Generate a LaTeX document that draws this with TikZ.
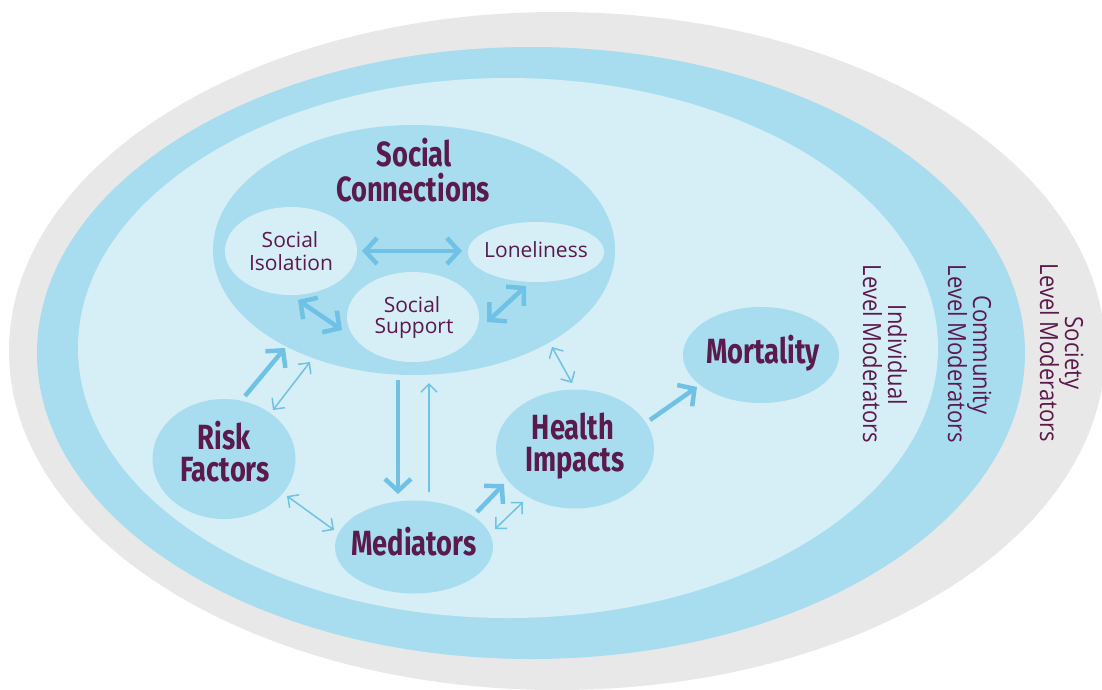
\documentclass[tikz,border=0pt]{standalone}
\usepackage{fontspec}
\setmainfont{Open Sans}
\newfontfamily\cond[FakeStretch=0.78]{Fira Sans}
\newfontfamily\modfont[FakeStretch=0.88]{Open Sans}
\usetikzlibrary{arrows.meta,shapes.geometric}
\definecolor{ggray}{HTML}{E8E8E8}
\definecolor{ringc}{HTML}{A7DDEF}
\definecolor{pale}{HTML}{D6EEF6}
\definecolor{arr}{HTML}{6FC1E6}
\definecolor{purp}{HTML}{5A1A4B}
\tikzset{
  tk/.tip={Straight Barb[sharp,length=12pt,width=26pt]},
  tn/.tip={Straight Barb[sharp,length=8pt,width=16pt]}
}
\begin{document}
\begin{tikzpicture}[x=1pt,y=-1pt,
  blob/.style={ellipse, fill=ringc, inner sep=0pt},
  paleblob/.style={ellipse, fill=pale, inner sep=0pt},
  bigtxt/.style={text=purp, font=\cond\bfseries\fontsize{35}{40}\selectfont, anchor=base, inner sep=0pt},
  smalltxt/.style={text=purp, font=\fontsize{21}{24}\selectfont, anchor=base, inner sep=0pt},
  modtxt/.style={text=purp, font=\modfont\fontsize{25}{28}\selectfont, anchor=base, inner sep=0pt, rotate=-90},
  thickarr/.style={draw=arr, line width=4.5pt},
  thinarr/.style={draw=arr, line width=1.5pt}]
\useasboundingbox (0,0) rectangle (1102,689);
\clip (0,0) rectangle (1102,689);
% moderator rings
\fill[ggray] (557,351) ellipse [x radius=548pt, y radius=339pt];
\fill[ringc] (531,353) ellipse [x radius=494pt, y radius=306pt];
\fill[pale] (508,348) ellipse [x radius=430pt, y radius=270pt];
% main nodes
\node[blob, minimum width=402pt, minimum height=250pt] (sc) at (414,250) {};
\node[paleblob, minimum width=132pt, minimum height=88pt] (iso) at (291,251) {};
\node[paleblob, minimum width=136pt, minimum height=60pt] (lon) at (536,252) {};
\node[paleblob, minimum width=132pt, minimum height=90pt] (sup) at (413,317) {};
\node[blob, minimum width=143pt, minimum height=120pt] (rf) at (224,459) {};
\node[blob, minimum width=158pt, minimum height=93pt] (med) at (414,547) {};
\node[blob, minimum width=158pt, minimum height=119pt] (hi) at (575,449) {};
\node[blob, minimum width=156pt, minimum height=96pt] (mort) at (761,355) {};
% texts
\node[bigtxt] (sct1) at (414,166) {Social};
\node[bigtxt] (sct2) at (413,201) {Connections};
\node[smalltxt] (isot1) at (290,247) {Social};
\node[smalltxt] (isot2) at (291,270) {Isolation};
\node[smalltxt] (lont) at (536,257) {Loneliness};
\node[smalltxt] (supt1) at (412,312) {Social};
\node[smalltxt] (supt2) at (414,333) {Support};
\node[bigtxt] (rft1) at (224,449) {Risk};
\node[bigtxt] (rft2) at (225,481) {Factors};
\node[bigtxt] (medt) at (414,555) {Mediators};
\node[bigtxt] (hit1) at (573,439) {Health};
\node[bigtxt] (hit2) at (575,471) {Impacts};
\node[bigtxt] (mortt) at (763,363) {Mortality};
% moderator labels
\node[modtxt] (ind1) at (888,355) {Individual};
\node[modtxt] (ind2) at (863,354) {Level Moderators};
\node[modtxt] (com1) at (973,355) {Community};
\node[modtxt] (com2) at (948,354) {Level Moderators};
\node[modtxt] (soc1) at (1065,353) {Society};
\node[modtxt] (soc2) at (1040,353) {Level Moderators};
% arrow end points
\coordinate (a1) at (362,251); \coordinate (b1) at (462,251);
\coordinate (a2) at (298,300); \coordinate (b2) at (342,330);
\coordinate (a3) at (487,322); \coordinate (b3) at (526,286);
\coordinate (a4) at (245,396); \coordinate (b4) at (285,348);
\coordinate (a5) at (273,410); \coordinate (b5) at (310,362);
\coordinate (a6) at (398,380); \coordinate (b6) at (398,494);
\coordinate (a7) at (429,492); \coordinate (b7) at (429,383);
\coordinate (a8) at (552,347); \coordinate (b8) at (572,383);
\coordinate (a9) at (287,496); \coordinate (b9) at (334,530);
\coordinate (a10) at (477,512); \coordinate (b10) at (504,484);
\coordinate (a11) at (495,529); \coordinate (b11) at (523,502);
\coordinate (a12) at (650,420); \coordinate (b12) at (697,387);
% connectors
\draw[thickarr, tk-tk] (a1) -- (b1);
\draw[thickarr, tk-tk] (a2) -- (b2);
\draw[thickarr, tk-tk] (a3) -- (b3);
\draw[thickarr, -tk] (a4) -- (b4);
\draw[thinarr, tn-tn] (a5) -- (b5);
\draw[thickarr, -tk] (a6) -- (b6);
\draw[thinarr, -tn] (a7) -- (b7);
\draw[thinarr, tn-tn] (a8) -- (b8);
\draw[thinarr, tn-tn] (a9) -- (b9);
\draw[thickarr, -tk] (a10) -- (b10);
\draw[thinarr, tn-tn] (a11) -- (b11);
\draw[thickarr, -tk] (a12) -- (b12);
\end{tikzpicture}
\end{document}
